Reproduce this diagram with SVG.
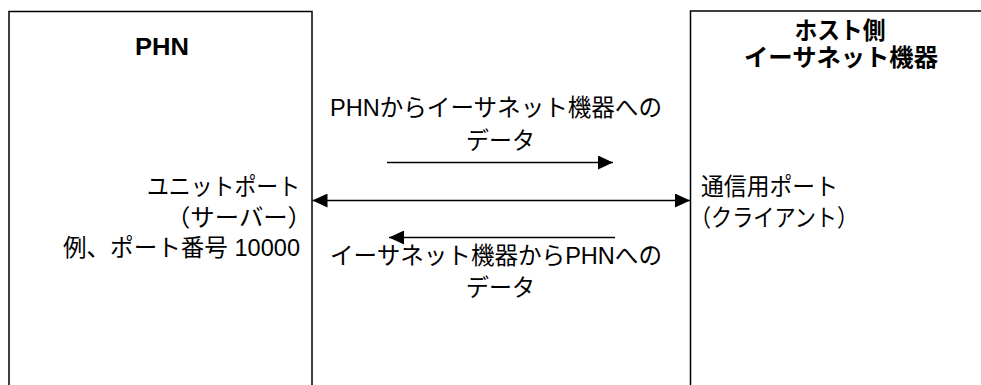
<svg xmlns="http://www.w3.org/2000/svg" width="981" height="385" viewBox="0 0 981 385">
<style>
.box{fill:#fff;stroke:#000;stroke-width:1.5}
.t{font-family:"Liberation Sans","Noto Sans CJK JP",sans-serif;font-size:24px;fill:#000}
.b{font-weight:bold;font-size:24px}
.c{text-anchor:middle}
.e{text-anchor:end}
.ln{stroke:#000;stroke-width:1.4;fill:none}
</style>
<defs>
<marker id="ah" viewBox="0 0 15 14" refX="15" refY="7" markerWidth="15" markerHeight="14" markerUnits="userSpaceOnUse" orient="auto-start-reverse">
<path d="M0,0 L15,7 L0,14 z" fill="#000"/>
</marker>
</defs>
<rect width="981" height="385" fill="#fff"/>
<g id="phn">
<rect class="box" x="9" y="11.5" width="303" height="390"/>
<text class="t b c" x="162" y="55" textLength="54" lengthAdjust="spacingAndGlyphs">PHN</text>
<text class="t e" x="300" y="195" textLength="153" lengthAdjust="spacingAndGlyphs">ユニットポート</text>
<text class="t" x="166" y="226" textLength="146" lengthAdjust="spacingAndGlyphs">（サーバー）</text>
<text class="t e" x="300" y="256" textLength="237" lengthAdjust="spacingAndGlyphs">例、ポート番号 10000</text>
</g>
<g id="host">
<rect class="box" x="690.5" y="11" width="320" height="390"/>
<text class="t b c" x="840" y="39" textLength="91" lengthAdjust="spacingAndGlyphs">ホスト側</text>
<text class="t b c" x="841" y="66" textLength="194" lengthAdjust="spacingAndGlyphs">イーサネット機器</text>
<text class="t" x="701" y="195" textLength="137" lengthAdjust="spacingAndGlyphs">通信用ポート</text>
<text class="t" x="690" y="226" textLength="168" lengthAdjust="spacingAndGlyphs">（クライアント）</text>
</g>
<g id="connectors">
<line class="ln" x1="312.5" y1="200.5" x2="690" y2="200.5" marker-start="url(#ah)" marker-end="url(#ah)"/>
<line class="ln" x1="387" y1="162.5" x2="613" y2="162.5" marker-end="url(#ah)"/>
<line class="ln" x1="615" y1="237.5" x2="389" y2="237.5" marker-end="url(#ah)"/>
<text class="t c" x="496" y="116" textLength="332" lengthAdjust="spacingAndGlyphs">PHNからイーサネット機器への</text>
<text class="t c" x="500.5" y="149" textLength="69" lengthAdjust="spacingAndGlyphs">データ</text>
<text class="t c" x="496" y="264" textLength="332" lengthAdjust="spacingAndGlyphs">イーサネット機器からPHNへの</text>
<text class="t c" x="500.5" y="296" textLength="69" lengthAdjust="spacingAndGlyphs">データ</text>
</g>
</svg>
